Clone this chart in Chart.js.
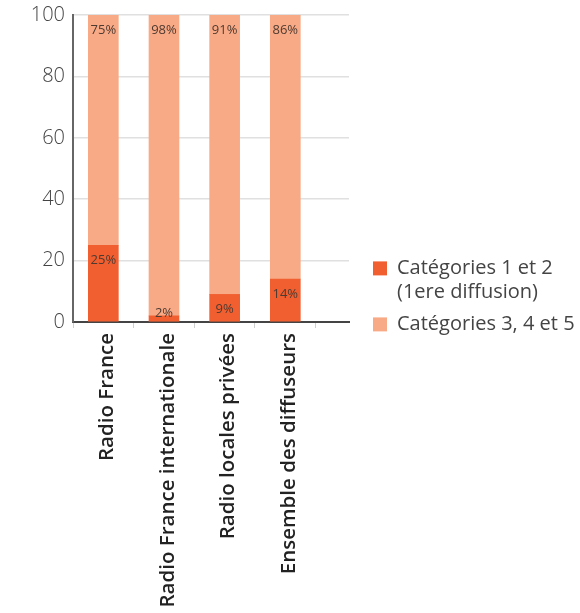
<!DOCTYPE html>
<html>
<head>
<meta charset="utf-8">
<script src="https://cdn.jsdelivr.net/npm/chart.js@4.4.1/dist/chart.umd.min.js"></script>
<style>
    html, body { margin: 0; padding: 0; background: #fff; }
    .chart-box { position: relative; width: 580px; height: 613px; }
</style>
</head>
<body>
<div class="chart-box"><canvas id="broadcastChart"></canvas></div>
<script>
// Data
const categories = ['Radio France', 'Radio France internationale', 'Radio locales privées', 'Ensemble des diffuseurs'];
const firstBroadcast = [25, 2, 9, 14];
const otherCategories = [75, 98, 91, 86];
const yTicks = [0, 20, 40, 60, 80, 100];
const seriesNames = [['Catégories 1 et 2', '(1ere diffusion)'], 'Catégories 3, 4 et 5'];

const FONT = '"Open Sans", "DejaVu Sans", sans-serif';

// Bars sit in the middle of each category slot (linear x so the axis can run past the last slot)
function toPoints(values) {
    return values.map((v, i) => ({ x: i + 0.5, y: v }));
}

// Percent labels near the top of every segment
const valueLabels = {
    id: 'valueLabels',
    afterDatasetsDraw(chart) {
        const ctx = chart.ctx;
        ctx.save();
        ctx.font = '13px ' + FONT;
        ctx.fillStyle = '#4d3a31';
        ctx.textAlign = 'center';
        ctx.textBaseline = 'middle';
        chart.data.datasets.forEach((ds, di) => {
            chart.getDatasetMeta(di).data.forEach((bar, i) => {
                const top = Math.min(bar.y, bar.base);
                const bottom = Math.max(bar.y, bar.base);
                const y = Math.min(top + 15, bottom - 8);
                ctx.fillText(ds.data[i].y + '%', bar.x, y);
            });
        });
        ctx.restore();
    }
};

// The layout caps side boxes at a fraction of the width, so widen the legend after it fits
const legendWidth = {
    id: 'legendWidth',
    beforeLayout(chart) {
        const legend = chart.legend;
        if (!legend || legend._widthPatched) return;
        const fit = legend.fit;
        legend.fit = function() {
            fit.call(this);
            this.width = 215;
        };
        legend._widthPatched = true;
    }
};

const ctx = document.getElementById('broadcastChart').getContext('2d');
new Chart(ctx, {
    type: 'bar',
    data: {
        datasets: [{
            label: seriesNames[0],
            data: toPoints(firstBroadcast),
            backgroundColor: '#f15f30',
            barThickness: 30
        }, {
            label: seriesNames[1],
            data: toPoints(otherCategories),
            backgroundColor: '#f8aa86',
            barThickness: 30
        }]
    },
    options: {
        responsive: true,
        maintainAspectRatio: false,
        animation: false,
        layout: {
            padding: 0
        },
        plugins: {
            tooltip: { enabled: false },
            legend: {
                position: 'right',
                align: 'start',
                title: {
                    display: true,
                    text: ' ',
                    padding: { top: 236, bottom: 0 },
                    font: { size: 12 }
                },
                labels: {
                    boxWidth: 14,
                    boxHeight: 14,
                    padding: 8,
                    color: '#444',
                    font: { family: FONT, size: 20 }
                }
            }
        },
        scales: {
            x: {
                type: 'linear',
                stacked: true,
                offset: false,
                min: 0,
                max: 4.55,
                afterBuildTicks: function(axis) {
                    const ticks = [];
                    for (let i = 0; i <= categories.length; i++) {
                        ticks.push({ value: i });
                        if (i < categories.length) ticks.push({ value: i + 0.5 });
                    }
                    axis.ticks = ticks;
                },
                afterFit: function(axis) {
                    axis.height = 291;
                },
                border: { display: true, color: '#444', width: 2 },
                grid: {
                    offset: false,
                    drawOnChartArea: false,
                    drawTicks: true,
                    tickLength: 6,
                    color: function(c) {
                        return c.tick && Number.isInteger(c.tick.value) ? '#cfcfcf' : 'rgba(0,0,0,0)';
                    }
                },
                ticks: {
                    autoSkip: false,
                    minRotation: 90,
                    maxRotation: 90,
                    padding: 5,
                    labelOffset: 4,
                    color: '#222',
                    font: { family: FONT, size: 20.5, weight: '600' },
                    callback: function(value) {
                        const i = value - 0.5;
                        return Number.isInteger(i) ? categories[i] : '';
                    }
                }
            },
            y: {
                stacked: true,
                min: 0,
                max: 100,
                afterBuildTicks: function(axis) {
                    axis.ticks = yTicks.map(v => ({ value: v }));
                },
                afterFit: function(axis) {
                    axis.width = 73;
                    axis.paddingTop = 15;
                },
                border: { display: true, color: '#666', width: 2 },
                grid: {
                    color: '#e0e0e0',
                    lineWidth: 1.5,
                    drawTicks: false
                },
                ticks: {
                    padding: 8,
                    color: '#444',
                    font: { family: FONT, size: 20, weight: '300' }
                }
            },
            gap: {
                type: 'linear',
                position: 'right',
                afterFit: function(axis) {
                    axis.width = 16;
                },
                border: { display: false },
                grid: { display: false },
                ticks: { display: false }
            }
        }
    },
    plugins: [valueLabels, legendWidth]
});
</script>
</body>
</html>
